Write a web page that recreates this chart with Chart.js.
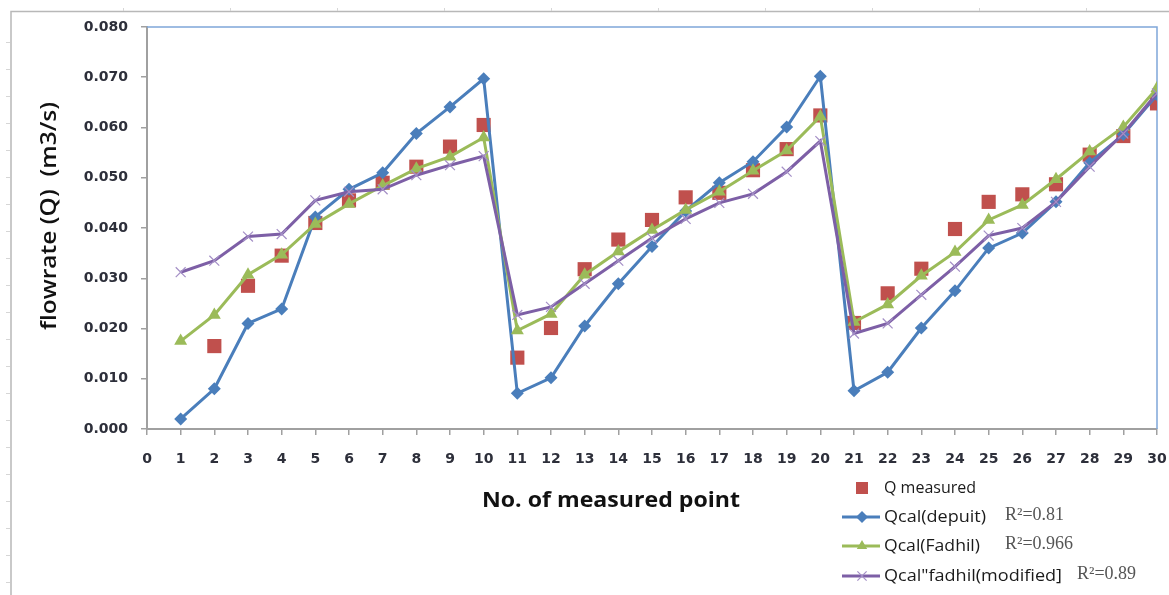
<!DOCTYPE html>
<html>
<head>
<meta charset="utf-8">
<title>Flow rate per measured point</title>
<script src="https://cdn.jsdelivr.net/npm/chart.js@4.4.1/dist/chart.umd.min.js"></script>
<style>
  html, body { margin: 0; padding: 0; background: #ffffff; }
  #wrap { width: 1169px; height: 595px; position: relative; }
</style>
</head>
<body>
<div id="wrap"><canvas id="chart" width="1169" height="595"></canvas></div>
<script>
// Measured point numbers
const points = [1, 2, 3, 4, 5, 6, 7, 8, 9, 10, 11, 12, 13, 14, 15, 16, 17, 18, 19, 20, 21, 22, 23, 24, 25, 26, 27, 28, 29, 30];

// Flow rates (m3/s)
const qMeasured = [null, 0.0165, 0.0285, 0.0345, 0.0410, 0.0455, 0.0490, 0.0522, 0.0562, 0.0605,
                   0.0142, 0.0201, 0.0318, 0.0377, 0.0416, 0.0461, 0.0470, 0.0515, 0.0557, 0.0624,
                   0.0211, 0.0270, 0.0319, 0.0398, 0.0452, 0.0467, 0.0487, 0.0546, 0.0583, 0.0648];
const qDepuit = [0.0020, 0.0080, 0.0210, 0.0239, 0.0422, 0.0477, 0.0510, 0.0588, 0.0641, 0.0697,
                 0.0071, 0.0102, 0.0205, 0.0289, 0.0363, 0.0434, 0.0490, 0.0532, 0.0601, 0.0702,
                 0.0076, 0.0113, 0.0201, 0.0275, 0.0360, 0.0390, 0.0452, 0.0530, 0.0586, 0.0665];
const qFadhil = [0.0175, 0.0227, 0.0307, 0.0347, 0.0408, 0.0448, 0.0484, 0.0518, 0.0542, 0.0580,
                 0.0196, 0.0229, 0.0307, 0.0353, 0.0396, 0.0436, 0.0472, 0.0514, 0.0554, 0.0622,
                 0.0213, 0.0248, 0.0305, 0.0352, 0.0416, 0.0446, 0.0497, 0.0552, 0.0601, 0.0678];
const qModified = [0.0312, 0.0335, 0.0383, 0.0388, 0.0455, 0.0472, 0.0477, 0.0505, 0.0525, 0.0543,
                   0.0227, 0.0243, 0.0289, 0.0335, 0.0380, 0.0418, 0.0450, 0.0468, 0.0512, 0.0573,
                   0.0190, 0.0210, 0.0267, 0.0323, 0.0385, 0.0400, 0.0452, 0.0522, 0.0588, 0.0668];

// Legend entries and fit statistics
const seriesNames = ['Q measured', 'Qcal(depuit)', 'Qcal(Fadhil)', 'Qcal"fadhil(modified]'];
const r2Labels = [null, 'R\u00B2=0.81', 'R\u00B2=0.966', 'R\u00B2=0.89'];

// Axis settings
const xMin = 0, xMax = 30, xStep = 1;
const yMin = 0, yMax = 0.08, yStep = 0.01;
const xTitle = 'No. of measured point';
const yTitle = 'flowrate (Q)  (m3/s)';

const COLORS = {
  red: '#c0504d',
  blue: '#4a7ebb',
  green: '#9bbb59',
  purple: '#7d5fa6',
  purpleMark: '#a48fc6',
  axis: '#a0a0a0',
  frame: '#b8b8b8',
  plotBorder: '#7fa7d9',
  tickText: '#2d2f3a'
};

const pairs = (ys) => points.map((x, i) => ({ x: x, y: ys[i] }));

const datasets = [
  {
    label: seriesNames[0], data: pairs(qMeasured), order: 4,
    showLine: false, pointStyle: 'rect', pointRadius: 10, pointHoverRadius: 10,
    backgroundColor: COLORS.red, borderColor: COLORS.red, pointBorderWidth: 0
  },
  {
    label: seriesNames[1], data: pairs(qDepuit), order: 3,
    borderColor: COLORS.blue, borderWidth: 3, backgroundColor: COLORS.blue,
    pointStyle: 'rectRot', pointRadius: 6.5, pointHoverRadius: 6.5, pointBorderWidth: 0,
    pointBackgroundColor: COLORS.blue, tension: 0
  },
  {
    label: seriesNames[2], data: pairs(qFadhil), order: 2,
    borderColor: COLORS.green, borderWidth: 3, backgroundColor: COLORS.green,
    pointStyle: 'triangle', pointRadius: 7.5, pointHoverRadius: 7.5, pointBorderWidth: 0,
    pointBackgroundColor: COLORS.green, tension: 0
  },
  {
    label: seriesNames[3], data: pairs(qModified), order: 1,
    borderColor: COLORS.purple, borderWidth: 3, backgroundColor: COLORS.purple,
    pointStyle: 'crossRot', pointRadius: 7, pointHoverRadius: 7, pointBorderWidth: 1.2,
    pointBorderColor: COLORS.purpleMark, tension: 0
  }
];

// Draw text squeezed or stretched to a target width, centred on x
function fitText(ctx, text, x, y, targetW) {
  const w = ctx.measureText(text).width;
  const s = targetW ? targetW / w : 1;
  ctx.save();
  ctx.translate(x, y);
  ctx.scale(s, 1);
  ctx.fillText(text, -w / 2, 0);
  ctx.restore();
}

const decor = {
  id: 'decor',
  beforeDraw(chart) {
    const ctx = chart.ctx;
    ctx.save();
    ctx.fillStyle = '#ffffff';
    ctx.fillRect(0, 0, chart.width, chart.height);
    // Sheet frame with small ruler ticks
    ctx.strokeStyle = COLORS.frame;
    ctx.lineWidth = 1.5;
    ctx.beginPath();
    ctx.moveTo(11, 595); ctx.lineTo(11, 11.5); ctx.lineTo(1169, 11.5);
    ctx.stroke();
    ctx.strokeStyle = '#d6d6d6';
    ctx.lineWidth = 1;
    ctx.beginPath();
    for (let x = 123; x < 1169; x += 107) { ctx.moveTo(x + 0.5, 8); ctx.lineTo(x + 0.5, 11); }
    for (let y = 42; y < 595; y += 27) { ctx.moveTo(6, y + 0.5); ctx.lineTo(10, y + 0.5); }
    ctx.stroke();
    ctx.restore();
  },
  beforeDatasetsDraw(chart) {
    const { ctx, chartArea: a } = chart;
    ctx.save();
    ctx.strokeStyle = COLORS.plotBorder;
    ctx.lineWidth = 1.5;
    ctx.beginPath();
    ctx.moveTo(a.left, a.top); ctx.lineTo(a.right, a.top); ctx.lineTo(a.right, a.bottom);
    ctx.stroke();
    ctx.restore();
  },
  afterDraw(chart) {
    const { ctx } = chart;
    ctx.save();
    // Axis titles
    ctx.fillStyle = '#111111';
    ctx.textBaseline = 'middle';
    ctx.font = 'bold 21px "Open Sans"';
    fitText(ctx, xTitle, 611, 501, 258);
    ctx.save();
    ctx.translate(50, 216);
    ctx.rotate(-Math.PI / 2);
    ctx.font = '600 21px "Open Sans"';
    fitText(ctx, yTitle, 0, 0, 228);
    ctx.restore();

    // Legend
    const rows = [488, 517, 546, 576];
    const lx0 = 842, lx1 = 880, mx = 862, tx = 884;
    ctx.textAlign = 'left';
    rows.forEach((ry, i) => {
      const ds = chart.data.datasets[i];
      if (i > 0) {
        ctx.strokeStyle = ds.borderColor;
        ctx.lineWidth = 3;
        ctx.beginPath(); ctx.moveTo(lx0, ry); ctx.lineTo(lx1, ry); ctx.stroke();
      }
      const r = i === 0 ? 8.5 : (i === 3 ? 6.5 : 6);
      ctx.save();
      ctx.fillStyle = ds.pointBackgroundColor || ds.backgroundColor;
      ctx.strokeStyle = ds.pointBorderColor || ds.borderColor;
      ctx.lineWidth = ds.pointBorderWidth || 0.01;
      Chart.helpers.drawPoint(ctx, { pointStyle: ds.pointStyle, rotation: 0, radius: r, borderWidth: ds.pointBorderWidth }, mx, ry);
      ctx.restore();
      ctx.fillStyle = '#1a1a1a';
      ctx.font = '500 16px "Open Sans"';
      const name = ds.label;
      const w = ctx.measureText(name).width;
      const target = [92, 102, 96, 178][i];
      ctx.save();
      ctx.translate(tx, ry);
      ctx.scale(target / w, 1);
      ctx.fillText(name, 0, 0);
      ctx.restore();
      if (r2Labels[i]) {
        ctx.fillStyle = '#555555';
        ctx.font = '18px "Liberation Serif"';
        const rx = i === 3 ? 1077 : 1005;
        ctx.fillText(r2Labels[i], rx, ry - 2);
      }
    });
    ctx.restore();
  }
};

new Chart(document.getElementById('chart'), {
  type: 'line',
  data: { datasets: datasets },
  options: {
    responsive: false,
    animation: false,
    events: [],
    layout: { padding: { left: 0, right: 12, top: 27, bottom: 0 } },
    plugins: { legend: { display: false }, tooltip: { enabled: false } },
    scales: {
      x: {
        type: 'linear', min: xMin, max: xMax,
        afterFit(scale) { scale.height = 166; scale.paddingLeft = 0; scale.paddingRight = 0; },
        ticks: {
          stepSize: xStep, padding: 16, color: COLORS.tickText,
          font: { family: 'DejaVu Sans', size: 14, weight: 'bold' },
          maxRotation: 0, autoSkip: false
        },
        grid: { drawOnChartArea: false, drawTicks: true, tickLength: 6, color: COLORS.axis, lineWidth: 1.5 },
        border: { display: true, color: COLORS.axis, width: 2 }
      },
      y: {
        type: 'linear', min: yMin, max: yMax,
        afterFit(scale) { scale.width = 147; scale.paddingTop = 0; scale.paddingBottom = 0; },
        ticks: {
          stepSize: yStep, padding: 13, color: COLORS.tickText,
          font: { family: 'DejaVu Sans', size: 14, weight: 'bold' },
          callback: (v) => Number(v).toFixed(3)
        },
        grid: { drawOnChartArea: false, drawTicks: true, tickLength: 6, color: COLORS.axis, lineWidth: 1.5 },
        border: { display: true, color: COLORS.axis, width: 2 }
      }
    }
  },
  plugins: [decor]
});
</script>
</body>
</html>
